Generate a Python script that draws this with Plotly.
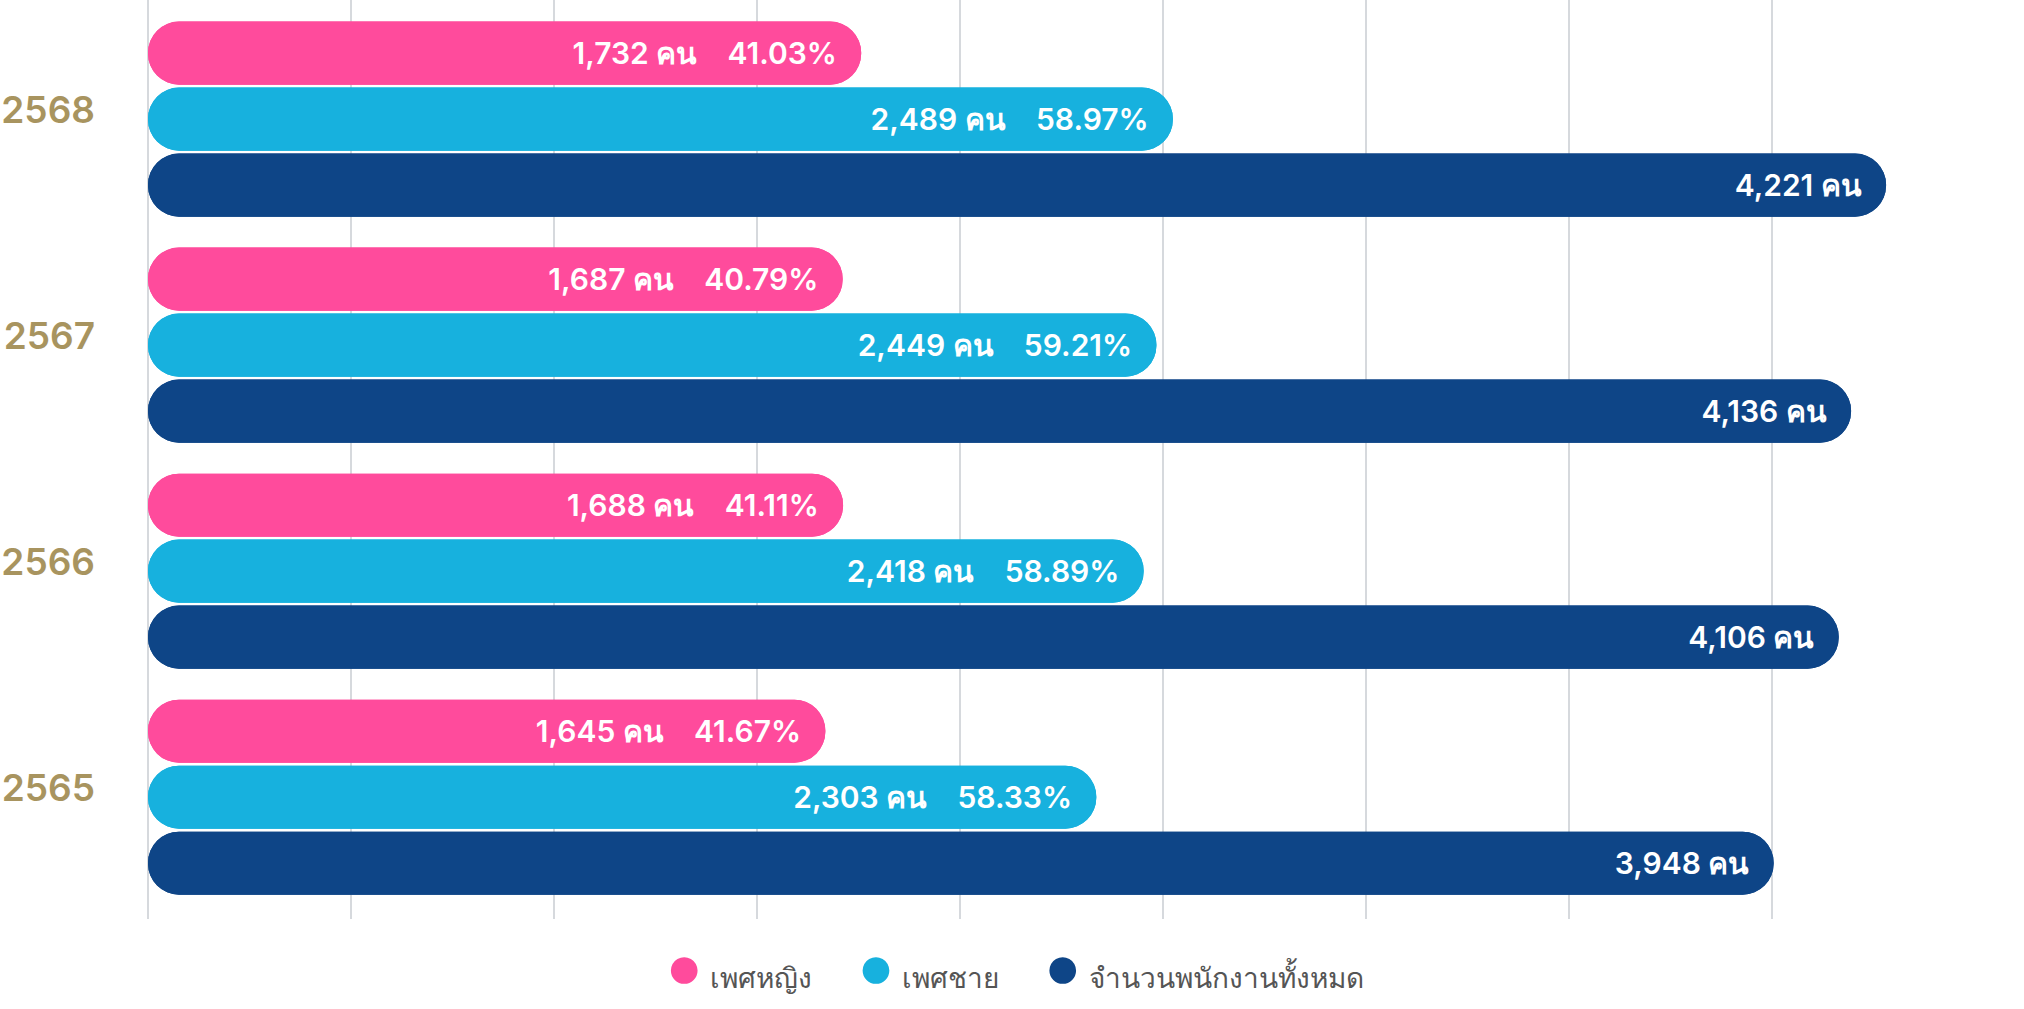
import plotly.graph_objects as go

years = ["2568", "2567", "2566", "2565"]
female = [1732, 1687, 1688, 1645]
male = [2489, 2449, 2418, 2303]
total = [4221, 4136, 4106, 3948]
female_pct = [41.03, 40.79, 41.11, 41.67]
male_pct = [58.97, 59.21, 58.89, 58.33]

series_names = ["เพศหญิง", "เพศชาย", "จำนวนพนักงานทั้งหมด"]
colors = ["#FF4B9C", "#17B1DE", "#0E4587"]

n = len(years)
ypos = list(range(n - 1, -1, -1))

NBSP = "\u00a0"
female_text = [f"{v:,} คน{NBSP*4}{p:.2f}%{NBSP*2}" for v, p in zip(female, female_pct)]
male_text = [f"{v:,} คน{NBSP*4}{p:.2f}%{NBSP*2}" for v, p in zip(male, male_pct)]
total_text = [f"{v:,} คน{NBSP*2}" for v in total]

W = 0.279
pitch = 0.292
series = [
    (series_names[0], female, colors[0], pitch - W / 2, female_text),
    (series_names[1], male, colors[1], -W / 2, male_text),
    (series_names[2], total, colors[2], -pitch - W / 2, total_text),
]

fig = go.Figure()
# left rounded caps (drawn back from value to zero)
for name, vals, col, off, txt in series:
    fig.add_trace(go.Bar(
        orientation="h", y=ypos, x=[-v for v in vals], base=vals,
        width=W, offset=off, marker=dict(color=col, cornerradius="50%", line=dict(width=0)),
        showlegend=False, hoverinfo="skip",
    ))
# right rounded caps with labels
for name, vals, col, off, txt in series:
    fig.add_trace(go.Bar(
        orientation="h", y=ypos, x=vals, base=0,
        width=W, offset=off, marker=dict(color=col, cornerradius="50%", line=dict(width=0)),
        text=txt, textposition="inside", insidetextanchor="end", textangle=0,
        textfont=dict(color="white", size=30, family="Inter, 'Noto Sans', sans-serif", weight=600),
        showlegend=False, name=name,
    ))
# legend entries (large round swatch drawn as a glyph)
for name, col in zip(series_names, colors):
    fig.add_trace(go.Scatter(
        x=[None], y=[None], mode="markers",
        name=f"<span style='color:{col};font-size:62px'>●</span> {name}",
        marker=dict(color="rgba(0,0,0,0)", size=1, line=dict(width=0)),
    ))

fig.update_layout(
    width=2024, height=1009,
    margin=dict(l=148, r=49, t=0, b=90),
    paper_bgcolor="white", plot_bgcolor="white",
    barmode="overlay",
    xaxis=dict(range=[0, 4437], dtick=493, showticklabels=False, showgrid=True,
               gridcolor="#D6D9DD", gridwidth=1.5, zeroline=True, zerolinecolor="#D6D9DD",
               zerolinewidth=1.5, showline=False, fixedrange=True),
    yaxis=dict(range=[-0.539, 3.527], tickvals=ypos, ticktext=years, showgrid=False,
               zeroline=False, showline=False, ticklabelstandoff=52, ticklabelshift=-9,
               tickfont=dict(size=37, color="#A8945F", family="Inter, 'Noto Sans', sans-serif",
                             weight=600)),
    legend=dict(orientation="h", x=0.465, xanchor="center", y=-0.063, yanchor="middle",
                font=dict(size=28, color="#555555", family="'Noto Sans', sans-serif"),
                itemwidth=30, bgcolor="rgba(0,0,0,0)"),
    showlegend=True,
)

fig.write_html("out.html")
